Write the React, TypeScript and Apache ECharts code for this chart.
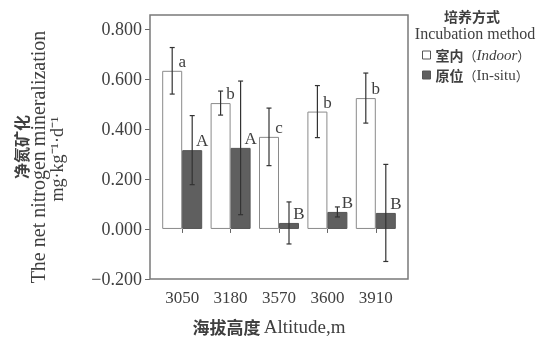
import React, { useEffect, useRef } from 'react';
import * as echarts from 'echarts';

const altitudes = ['3050', '3180', '3570', '3600', '3910'];
const indoorMean = [0.632, 0.503, 0.368, 0.469, 0.523];
const indoorErr = [0.093, 0.048, 0.115, 0.104, 0.1];
const indoorLetters = ['a', 'b', 'c', 'b', 'b'];
const insituMean = [0.315, 0.324, 0.024, 0.068, 0.064];
const insituErr = [0.138, 0.267, 0.084, 0.02, 0.194];
const insituLetters = ['A', 'A', 'B', 'B', 'B'];
const yTicks = [-0.2, 0, 0.2, 0.4, 0.6, 0.8];

const SERIF = "'Liberation Serif', 'Times New Roman', 'Noto Sans CJK SC', serif";
const TXT = '#3f3f3f';

function errSeries(means: number[], errs: number[], off: number) {
  return {
    type: 'custom',
    silent: true,
    z: 5,
    data: means.map((m, i) => [i, m, errs[i]]),
    encode: { x: 0, y: 1 },
    renderItem: (_p: any, api: any) => {
      const i = api.value(0);
      const m = api.value(1);
      const e = api.value(2);
      const top = api.coord([i, m + e]);
      const bot = api.coord([i, m - e]);
      const x = top[0] + off;
      const cap = 2.5;
      const st = { stroke: '#333', lineWidth: 1.2 };
      return {
        type: 'group',
        children: [
          { type: 'line', shape: { x1: x, y1: top[1], x2: x, y2: bot[1] }, style: st },
          { type: 'line', shape: { x1: x - cap, y1: top[1], x2: x + cap, y2: top[1] }, style: st },
          { type: 'line', shape: { x1: x - cap, y1: bot[1], x2: x + cap, y2: bot[1] }, style: st },
        ],
      };
    },
  };
}

export default function App() {
  const ref = useRef<HTMLDivElement>(null);
  useEffect(() => {
    const chart = echarts.init(ref.current!, undefined, { renderer: 'svg' });
    const fmt = (v: number) => v.toFixed(3).replace('-', '\u2212');
    chart.setOption({
      animation: false,
      grid: { left: 158, right: 136, top: 15, bottom: 59 },
      legend: {
        orient: 'vertical',
        left: 417,
        top: 42,
        itemWidth: 8,
        itemHeight: 8,
        itemGap: 4,
        icon: 'rect',
        data: [
          { name: '室内（Indoor）', itemStyle: { color: '#fff', borderColor: '#555', borderWidth: 1 } },
          { name: '原位（In-situ）', itemStyle: { color: '#5f5f5f', borderColor: '#555', borderWidth: 1 } },
        ],
        formatter: (name: string) => {
          const [cn, rest] = name.split('（');
          const en = rest.replace('）', '');
          return name.startsWith('室')
            ? `{c|${cn}}{p|（}{i|${en}}{p|）}`
            : `{c|${cn}}{p|（}{e|${en}}{p|）}`;
        },
        textStyle: {
          color: TXT,
          fontFamily: SERIF,
          fontSize: 15,
          lineHeight: 16,
          rich: {
            c: { fontFamily: "'Noto Sans CJK SC'", fontWeight: 'bold', fontSize: 14, lineHeight: 16, color: TXT },
            p: { fontFamily: "'Noto Sans CJK SC'", fontSize: 13, lineHeight: 16, color: TXT },
            i: { fontFamily: SERIF, fontStyle: 'italic', fontSize: 15, lineHeight: 16, color: TXT },
            e: { fontFamily: SERIF, fontSize: 15, lineHeight: 16, color: TXT },
          },
        },
      },
      xAxis: {
        type: 'category',
        data: altitudes,
        axisLine: { show: false },
        axisTick: { show: true, alignWithLabel: true, length: 4, lineStyle: { color: '#666' } },
        axisLabel: { color: TXT, fontFamily: SERIF, fontSize: 17, margin: 10 },
      },
      yAxis: {
        type: 'value',
        min: -0.2,
        max: 0.855,
        interval: 0.2,
        offset: 8,
        splitLine: { show: false },
        axisLine: { show: false },
        axisTick: { show: true, length: 5, customValues: yTicks, lineStyle: { color: '#666' } },
        axisLabel: { color: TXT, fontFamily: SERIF, fontSize: 18, margin: 8, customValues: yTicks, formatter: fmt },
      },
      graphic: [
        {
          type: 'rect',
          shape: { x: 150, y: 15, width: 258, height: 264 },
          style: { fill: 'none', stroke: '#7a7a7a', lineWidth: 1.5 },
          z: 10,
          silent: true,
        },
        {
          type: 'text',
          x: 21,
          y: 147,
          rotation: Math.PI / 2,
          style: { text: '净氮矿化', fontFamily: "'Noto Sans CJK SC'", fontWeight: 'bold', fontSize: 16, fill: TXT, align: 'center', verticalAlign: 'middle' },
        },
        {
          type: 'text',
          x: 38,
          y: 157,
          rotation: Math.PI / 2,
          style: { text: 'The net nitrogen mineralization', fontFamily: SERIF, fontSize: 20, fill: TXT, align: 'center', verticalAlign: 'middle' },
        },
        {
          type: 'text',
          x: 57,
          y: 159,
          rotation: Math.PI / 2,
          style: { text: 'mg·kg⁻¹·d⁻¹', fontFamily: SERIF, fontSize: 18, fill: TXT, align: 'center', verticalAlign: 'middle' },
        },
        {
          type: 'text',
          x: 472,
          y: 16,
          style: { text: '培养方式', fontFamily: "'Noto Sans CJK SC'", fontWeight: 'bold', fontSize: 14, lineHeight: 16, fill: TXT, align: 'center', verticalAlign: 'middle' },
        },
        {
          type: 'text',
          x: 475,
          y: 33,
          style: { text: 'Incubation method', fontFamily: SERIF, fontSize: 16, lineHeight: 16, fill: TXT, align: 'center', verticalAlign: 'middle' },
        },
        {
          type: 'text',
          x: 269,
          y: 326,
          style: {
            text: '{b|海拔高度} {r|Altitude,m}',
            align: 'center',
            verticalAlign: 'middle',
            rich: {
              b: { fontFamily: "'Noto Sans CJK SC'", fontWeight: 'bold', fontSize: 17, fill: TXT, color: TXT },
              r: { fontFamily: SERIF, fontSize: 19, fill: TXT, color: TXT },
            },
          },
        },
      ],
      series: [
        {
          name: '室内（Indoor）',
          type: 'bar',
          data: indoorMean,
          barWidth: 20,
          barGap: '0%',
          itemStyle: { color: '#fff', borderColor: '#8a8a8a', borderWidth: 1 },
          label: {
            show: true,
            position: 'top',
            distance: 1,
            offset: [10, 0],
            formatter: (p: any) => indoorLetters[p.dataIndex],
            fontFamily: SERIF,
            fontSize: 17,
            color: TXT,
          },
          z: 2,
        },
        {
          name: '原位（In-situ）',
          type: 'bar',
          data: insituMean,
          barWidth: 20,
          barGap: '0%',
          itemStyle: { color: '#5f5f5f', borderColor: '#555', borderWidth: 1 },
          label: {
            show: true,
            position: 'top',
            distance: 1,
            offset: [10, 0],
            formatter: (p: any) => insituLetters[p.dataIndex],
            fontFamily: SERIF,
            fontSize: 17,
            color: TXT,
          },
          z: 2,
        },
        errSeries(indoorMean, indoorErr, -10),
        errSeries(insituMean, insituErr, 10),
      ],
    });
    return () => chart.dispose();
  }, []);
  return <div ref={ref} style={{ width: 536, height: 338, position: 'fixed', left: 0, top: 0 }} />;
}
